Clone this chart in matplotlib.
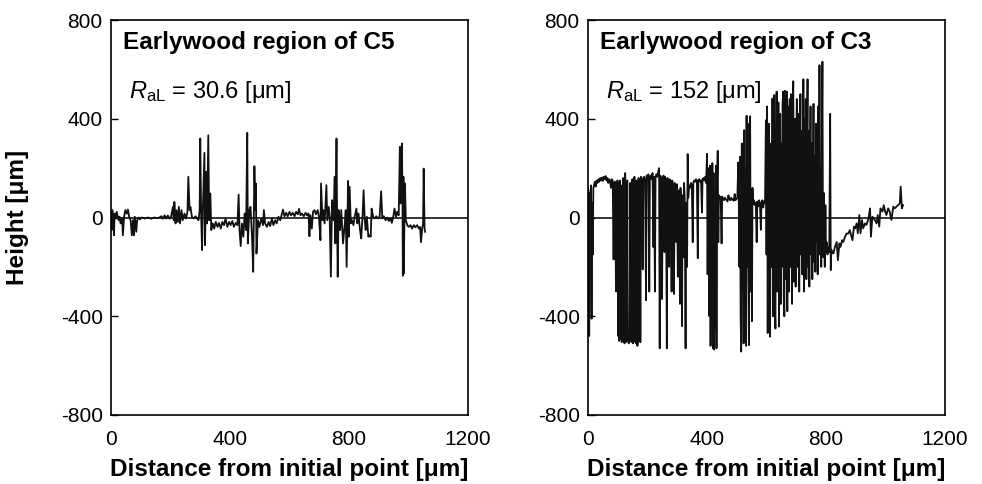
import matplotlib
matplotlib.use("Agg")
import matplotlib.pyplot as plt

plt.rcParams['font.family'] = ['Liberation Sans', 'DejaVu Sans']
plt.rcParams['mathtext.fontset'] = 'custom'
plt.rcParams['mathtext.rm'] = 'Liberation Sans'
plt.rcParams['mathtext.it'] = 'Liberation Sans:italic'
plt.rcParams['mathtext.bf'] = 'Liberation Sans:bold'
plt.rcParams['axes.unicode_minus'] = False

# ---------------- data ----------------
titles = ["Earlywood region of C5", "Earlywood region of C3"]
ral_values = ["30.6", "152"]
x_ticks = [0, 400, 800, 1200]
y_ticks = [-800, -400, 0, 400, 800]

c5_x = [0, 2, 4.5, 8, 10, 12, 16, 19, 22, 26, 29, 32, 37, 40, 44, 48, 53, 57, 61, 66, 70, 74, 77, 80, 85, 88,
        93, 97, 102, 113, 124, 135, 146, 158, 169, 174, 180, 185, 191, 197, 202, 208, 211, 213, 217, 220, 225,
        228, 232, 237, 241, 247, 252, 257, 260, 264, 267, 272, 278, 284, 289, 294, 298, 300, 303, 306, 309, 314,
        316, 320, 323, 327, 330, 334, 337, 342, 347,
        352, 358, 363, 369, 374, 380, 385, 391, 397, 402, 408, 413, 419, 425, 429, 432, 436, 440, 445, 449, 454,
        458, 460, 465, 469, 474, 478, 482, 485, 487, 489, 494, 499, 505, 511, 514, 518, 524, 530, 535, 541, 546,
        552, 557, 563, 569, 574, 578, 583, 589, 594, 600, 605, 611, 617, 622, 628, 632, 637, 642, 648, 654, 659,
        664, 667, 670, 675, 679, 684, 689, 695, 699, 704, 706,
        711, 714, 718, 724, 727, 732, 735, 739, 743, 748, 752, 754, 758, 760, 762, 765, 770, 774, 780, 786, 789,
        792, 797, 799, 802, 806, 810, 815, 819, 825, 828, 832, 837, 841, 846, 849, 853, 856, 860, 865, 869, 873,
        876, 881, 886, 892, 897, 903, 908, 912, 917, 923, 928, 934, 940, 944, 949, 953, 958, 962, 967, 971, 973,
        975, 978, 980, 981, 983, 984, 988, 991, 996, 1001, 1007, 1012, 1018, 1023, 1029, 1035, 1039, 1042, 1046,
        1049, 1051, 1054, 1056]
c5_y = [10, -51, 30, -11, -72, 16, -4, 23, 9, -11, 3, -24, -4, -72, 3, 30, 16, 32, 3, -11, -72, -11, -72, 3, -58,
        -11, 0, -8, 0, -4, 0, -5, 0, -3, 5, -5, 9, -4, 8, -5, 3, 43, -11, 63, -24, 30, -18, 43, -24, 30, -11, 16,
        -4, 23, 165, 30, 43, 3, -4, 5, -4, -11, 30, 320, 16, -132, 43, 262, -112, 185, -24, 333, -11, 97, -51, -24,
        -45,
        -18, -38, -22, -45, -18, -31, -4, -38, -18, -31, -14, -38, -22, -31, 93, -51, -116, -24, -78, 16, -51, 343,
        -105, 30, 43, -78, -220, 208, 30, 138, -146, -11, -38, -4, -31, 30, -24, -38, -18, -35, -4, -31, -11, -24,
        3, -11, 13, 32, 5, 19, 5, 23, 9, 19, 5, 23, 13, 35, 9, 16, 5, 19, 9, 16, -76, 9, -45, 23, 30, 13, 30, 3,
        -92, 138,
        -11, 30, -24, 131, -11, 43, 3, -240, 70, -11, 165, -105, 320, -11, -240, 30, -51, 30, -105, -24, 30, -200,
        148, -78, 124, -24, -11, -31, 3, 36, -24, 16, -51, -85, 16, 110, -11, -51, 3, -78, -72, -78, 36, 3, -4, 5,
        -4, 3, 106, -4, 5, -11, 0, -14, -4, -22, 5, 36, 3, 23, 9, 286, 57, 259, 300, 30, -236, 165, -227, 138, -11,
        -31, -38, -31, -45, -31, -40, -31, -45, -38, -100, -45, -24, 198, -45, -58]

c3_x = [0, 2, 4, 6, 8, 10, 12, 14, 16, 18, 20, 23, 26, 29, 32, 35, 38, 41, 44, 47, 50, 53, 56, 59, 62, 65, 68,
        71, 74, 77, 80, 83, 86, 88, 91, 94, 96, 99, 101, 103, 105, 107, 109, 111, 113, 116, 118, 120, 123, 125,
        127, 130, 132, 134, 137, 140, 142, 144, 147, 149, 151, 154, 156, 158, 161, 163, 166, 168, 170, 172, 174,
        176, 178, 181, 184, 186, 189, 192, 195, 197, 200, 203, 206, 208, 211, 214, 217, 220, 222, 225, 227, 230,
        233, 236, 239, 241, 243, 246, 249, 251, 254, 257, 259, 262, 265, 267, 270, 273, 275, 278, 281, 283, 286,
        289, 291, 294, 297, 299, 302, 304, 307, 309, 311, 314, 316, 318, 321, 323, 325, 328, 330, 333, 335, 337,
        340, 343, 346, 349, 352, 354, 357, 360, 363, 366, 369, 371, 374, 377, 380, 383, 385, 388, 391, 394, 397,
        400, 402, 404, 406, 408, 410, 412, 414, 416, 418, 420, 422, 424, 426, 428, 430, 432, 434, 436, 438, 440,
        443, 446, 449, 451, 454, 457, 460, 463, 466, 469, 472, 475, 478, 481, 484, 487, 490, 493, 496, 499, 502,
        505, 507, 509, 511, 513, 515, 517, 519, 521, 523, 525, 527, 529, 531, 533, 535, 537, 539, 541, 543, 545,
        547, 549, 551, 553, 555, 558, 561, 564, 567, 569, 572, 575, 578, 581, 583, 586, 589, 592, 595, 598, 600,
        602, 604, 606, 608, 610, 612, 614, 616, 618, 620, 622, 624, 626, 628, 630, 632, 634, 636, 638, 640, 642,
        644, 646, 648, 650, 652, 654, 656, 658, 660, 662, 664, 666, 668, 670, 672, 674, 676, 678, 680, 682, 684,
        686, 688, 690, 692, 694, 696, 698, 700, 702, 704, 706, 708, 710, 712, 714, 716, 718, 720, 722, 724, 726,
        728, 730, 732, 734, 736, 738, 740, 742, 744, 746, 748, 750, 752, 754, 756, 758, 760, 762, 764, 766, 768,
        770, 772, 774, 776, 778, 780, 782, 784, 786, 788, 790, 792, 794, 796, 798, 800, 802, 805, 808, 811, 814,
        816, 818, 820, 825, 830, 836, 840, 845, 849, 854, 858, 864, 869, 875, 880, 886, 889, 894, 898, 903, 907,
        912, 916, 921, 925, 931, 936, 943, 948, 951, 956, 964, 970, 974, 979, 983, 990, 994, 999, 1003, 1009,
        1014, 1020, 1026, 1031, 1037, 1042, 1048, 1051, 1055, 1059]
c3_y = [120, 110, -480, 100, -130, 130, -410, 60, -150, 120, 130, 145, 125, 150, 140, 155, 145, 160, 150, 162,
        148, 165, 155, 168, 150, 160, 140, 155, 150, 120, 155, 150, -170, 140, 145, -300, 120, 150, -480, 140,
        -500, 150, -490, 130, -505, -495, 160, -500, -510, 180, -505, -495, 150, -500, -510, -490, 140, -500,
        -505, 155, -510, -500, 165, -495, -510, 150, -520, -500, 160, -300, 150, -505, 165, 150, -210, 160, 165,
        150, -335, 170, 160, 175, -300, 165, 170, 155, 180, -120, 165, -300, 160, 175, 165, 185, 200, -530, 170,
        160, -330, 155, 170, -140, 165, 150, -530, 160, 145, -200, 155, 140, -300, 150, 130, -310, 140, 120,
        -100, 135, -240, 110, 60, -350, 120, -40, -440, 90, -160, 140, 80, -530, 60, -200, 257, 80, 130, 120,
        140, 130, -100, 140, 150, 145, 155, 150, -165, 150, 155, 145, 150, 20, 155, 160, 150, 165, 140, 258,
        -230, 120, 200, -400, 210, -520, 150, -300, 220, -530, 180, -535, 100, -450, 210, -530, 150, 270, -100,
        90, 85, 80, -105, 85, 75, 70, 80, 75, 70, 65, 90, 75, 70, 80, 72, 75, 68, 95, 70, 75, 80, 223, 60, -200,
        246, -400, -543, 300, -300, 250, -510, 354, -100, 200, -520, 412, -200, 380, -250, -517, 300, 410, -300,
        100, -420, 120, 55, 70, 50, 60, -100, 65, 45, 70, 55, -50, 60, 70, 40, 65, 60, 394, -150, 450, -468, 200,
        380, -300, -483, 100, 300, -200, 482, -400, 150, 496, -350, -450, 200, 510, -300, 100, 466, -442, 250,
        420, -350, 300, -200, 460, 510, -320, -400, 513, 100, -250, 510, -380, 450, 200, -300, 480, -200, 500,
        100, -350, 460, 552, -260, 0, 400, -280, 300, 480, -200, 100, 420, -300, 250, 500, -150, 350, -230, 50,
        560, -300, 400, -100, 480, -250, 300, 560, -200, 350, -280, 200, 450, -150, 300, -250, 100, 460, -180,
        250, -220, 380, -100, 300, -230, 450, -150, 617, -100, 200, -200, 300, 631, -160, 100, -130, -200, 50,
        -140, -100, -150, -120, -140, 420, -213, -130, -140, -146, -119, -99, -173, -105, -119, -92, -99, -78,
        -65, -65, -51, -78, -92, -37, -44, -24, -64, 10, -64, -10, -44, -24, -30, -3, 37, -78, 3, -10, -24, 10,
        -37, 37, 24, 50, 24, 10, 37, 24, -10, 44, 37, 44, 50, 57, 125, 37, 50]

series = [(c5_x, c5_y), (c3_x, c3_y)]

# ---------------- figure ----------------
fig = plt.figure(figsize=(9.82, 4.84), dpi=100)
ax_w = 357 / 982
ax_h = 395 / 484
bottom = 69 / 484
lefts = [111 / 982, 588 / 982]
for i in range(2):
    ax = fig.add_axes([lefts[i], bottom, ax_w, ax_h])
    xs, ys = series[i]
    ax.axhline(0, color='black', lw=1.1, zorder=1)
    ax.plot(xs, ys, color='#111111', lw=1.3, zorder=2)
    ax.set_xlim(0, 1200)
    ax.set_ylim(-800, 800)
    ax.set_xticks(x_ticks)
    ax.set_yticks(y_ticks)
    ax.tick_params(axis='y', direction='in', length=5, width=1.0, pad=6, labelsize=15)
    ax.tick_params(axis='x', direction='in', length=0, pad=11, labelsize=15)
    for sp in ax.spines.values():
        sp.set_linewidth(1.2)
    ax.text(0.034, 0.942, titles[i], transform=ax.transAxes, fontsize=17.5,
            fontweight='bold', ha='left', va='center')
    ax.text(0.05, 0.818, r'$R_{\mathrm{aL}}$ = ' + ral_values[i] + ' [μm]',
            transform=ax.transAxes, fontsize=17, ha='left', va='center')
    ax.set_xlabel('Distance from initial point [μm]', fontsize=17.5, fontweight='bold', labelpad=6)

fig.text(18 / 982, 1 - 217 / 484, 'Height [μm]', rotation=90, fontsize=17.5,
         fontweight='bold', ha='center', va='center')

fig.savefig('out.png', dpi=100)
